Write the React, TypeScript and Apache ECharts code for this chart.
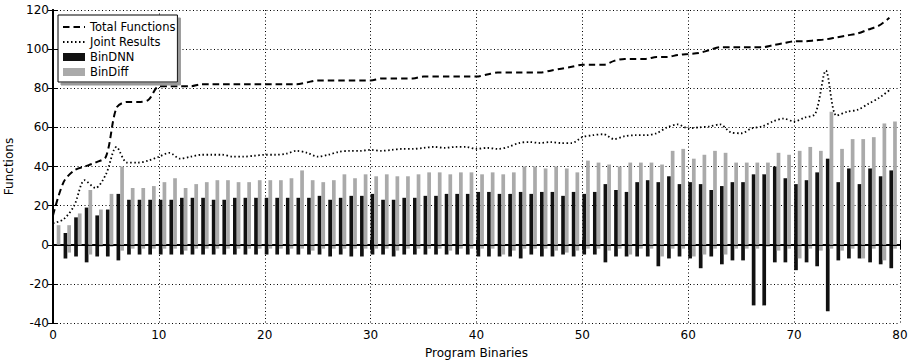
import React, { useEffect, useRef } from "react";
import * as echarts from "echarts";

// Program binary indices 0..79
const binaries: number[] = Array.from({ length: 80 }, (_, i) => i);

const totalFunctions: number[] = [
  15, 32, 38, 40, 42, 45, 70, 73, 73, 74,
  81, 81, 81, 81, 82, 82, 82, 82, 82, 82,
  82, 82, 82, 82, 83, 84, 84, 84, 84, 84,
  84, 85, 85, 85, 85, 86, 86, 86, 86, 86,
  86, 87, 88, 88, 88, 88, 88, 89, 90, 91,
  92, 92, 92, 94, 95, 95, 95, 96, 96, 97,
  97.5, 98, 99.5, 101, 101, 101, 101, 101, 102, 103,
  104, 104, 104.5, 105, 106, 107, 108, 110, 112, 116,
];

const jointResults: number[] = [
  11, 13, 20, 33, 29, 36, 50, 42, 42, 43,
  45, 47, 44, 45, 46, 46, 46, 45, 45, 45.5,
  46, 46, 46.5, 48, 47, 45, 46, 47.5, 48, 48,
  48.5, 48, 48.5, 49, 49, 49.5, 50, 49.5, 50, 50,
  49, 49.5, 49, 50, 52, 52.5, 52, 52.5, 52, 52,
  55, 56, 56.5, 54, 55.5, 56, 56, 57, 60, 61.5,
  59.5, 60, 60.5, 61.5, 57.5, 57, 59.5, 60.5, 63, 64.5,
  63, 65, 67, 89, 66, 68, 69, 72, 75, 79,
];

const binDNN: number[] = [
  0, 6, 14, 19, 15, 18, 26, 23, 23, 23,
  23, 23, 24, 24, 24, 23, 23, 24, 24, 24,
  24, 24, 24, 24, 24, 25, 23, 24, 25, 25,
  26, 23, 23, 24, 24, 25, 25, 26, 26, 26,
  27, 27, 26, 26, 27, 26, 27, 27, 25, 27,
  26, 27, 31, 28, 27, 32, 33, 32, 35, 31,
  32, 31, 28, 30, 32, 32, 36, 36, 40, 34,
  31, 33, 37, 44, 32, 39, 31, 39, 35, 38,
];

const binDiff: number[] = [
  10, 10, 16, 28, 18, 26, 40, 29, 29, 30,
  32, 34, 29, 31, 32, 33, 33, 32, 32, 33,
  33, 33, 34, 38, 33, 32, 33, 36, 34, 36,
  35, 36, 35, 35, 36, 37, 37, 36, 37, 37,
  36, 37, 36, 37, 40, 40, 39, 40, 39, 37,
  43, 42, 41, 40, 42, 42, 42, 41, 48, 49,
  44, 46, 48, 47, 42, 42, 42, 42, 47, 46,
  48, 50, 48, 68, 49, 54, 54, 55, 62, 63,
];

const binDNNMissed: number[] = [
  0, -7, -6, -9, -6, -6, -8, -5, -5, -5,
  -5, -5, -5, -5, -5, -5, -5, -5, -5, -5,
  -5, -5, -5, -5, -5, -5, -6, -5, -6, -6,
  -5, -5, -6, -5, -5, -5, -5, -5, -5, -5,
  -6, -6, -6, -6, -7, -5, -6, -6, -5, -6,
  -5, -5, -9, -6, -6, -6, -6, -11, -7, -6,
  -7, -12, -6, -10, -8, -8, -31, -31, -9, -9,
  -13, -9, -11, -34, -8, -7, -7, -9, -10, -12,
];

const binDiffMissed: number[] = [
  0, -4, 0, -5, -1, -1, -3, -2, -2, -2,
  -2, -2, -3, -2, -2, -2, -2, -2, -2, -2,
  -2, -2, -2, -2, -3, -2, -2, -2, -2, -2,
  -2, -2, -3, -2, -2, -2, -2, -3, -2, -2,
  -2, -2, -5, -3, -2, -2, -2, -3, -4, -3,
  -2, -2, -3, -2, -5, -2, -2, -6, -2, -2,
  -6, -5, -2, -5, -2, -2, -2, -1, -3, -2,
  -7, -2, -3, -2, -3, -2, -7, -2, -8, -2,
];

const xTicks = { min: 0, max: 80, interval: 10 };
const yTicks = { min: -40, max: 120, interval: 20 };

const BAR_W = 0.35;
const BLACK = "#111111";
const GRAY = "#aaaaaa";
const FONT = "DejaVu Sans";

function barSeries(name: string, vals: number[], offset: number, color: string) {
  return {
    type: "custom",
    name,
    data: binaries.map((b, i) => [b, vals[i]]),
    encode: { x: 0, y: 1 },
    itemStyle: { color },
    z: 2,
    renderItem: (_params: any, api: any) => {
      const x = api.value(0) + offset;
      const v = api.value(1);
      const a = api.coord([x, 0]);
      const b = api.coord([x + BAR_W, v]);
      return {
        type: "rect",
        shape: {
          x: a[0],
          y: Math.min(a[1], b[1]),
          width: b[0] - a[0],
          height: Math.abs(b[1] - a[1]),
        },
        style: { fill: color },
      };
    },
  };
}

function frameAxis(extra: any) {
  return {
    type: "value",
    axisLine: { show: true, lineStyle: { color: "#000", width: 2 } },
    axisTick: { show: true, inside: true, length: 5, lineStyle: { color: "#000", width: 1 } },
    ...extra,
  };
}

export default function App() {
  const ref = useRef<HTMLDivElement>(null);

  useEffect(() => {
    if (!ref.current) return;
    const chart = echarts.init(ref.current, null, { renderer: "svg" });
    const gridLine = { show: true, lineStyle: { color: "#000", width: 1, type: [1, 2.5] } };
    const option: any = {
      animation: false,
      textStyle: { fontFamily: FONT },
      grid: { left: 53, right: 11, top: 10, bottom: 38, outerBoundsMode: "none", containLabel: false },
      legend: {
        data: [
          { name: "Total Functions", itemStyle: { opacity: 0 } },
          { name: "Joint Results", itemStyle: { opacity: 0 } },
          { name: "BinDNN", icon: "rect" },
          { name: "BinDiff", icon: "rect" },
        ],
        orient: "vertical",
        left: 58,
        top: 15,
        itemWidth: 22,
        itemHeight: 8,
        itemGap: 3,
        itemTextGap: 9,
        padding: [6, 2, 4, 4],
        backgroundColor: "#fff",
        borderColor: "#000",
        borderWidth: 1,
        borderRadius: 0,
        shadowColor: "#999",
        shadowBlur: 0,
        shadowOffsetX: 3,
        shadowOffsetY: 3,
        textStyle: { fontSize: 11.5, color: "#000", fontFamily: FONT, lineHeight: 12 },
        z: 10,
      },
      xAxis: [
        frameAxis({
          ...xTicks,
          position: "bottom",
          axisLabel: { color: "#000", fontSize: 12, fontFamily: FONT, margin: 6 },
          splitLine: gridLine,
          name: "Program Binaries",
          nameLocation: "middle",
          nameGap: 24,
          nameTextStyle: { color: "#000", fontSize: 12, fontFamily: FONT },
        }),
        frameAxis({
          ...xTicks,
          position: "top",
          axisLabel: { show: false },
          splitLine: { show: false },
        }),
      ],
      yAxis: [
        frameAxis({
          ...yTicks,
          position: "left",
          axisLabel: { color: "#000", fontSize: 12, fontFamily: FONT, margin: 4 },
          splitLine: gridLine,
          name: "Functions",
          nameLocation: "middle",
          nameGap: 30,
          nameTextStyle: { color: "#000", fontSize: 12, fontFamily: FONT },
        }),
        frameAxis({
          ...yTicks,
          position: "right",
          axisLabel: { show: false },
          splitLine: { show: false },
        }),
      ],
      series: [
        barSeries("BinDNN", binDNN, 0, BLACK),
        barSeries("BinDiff", binDiff, BAR_W, GRAY),
        barSeries("BinDNN", binDNNMissed, 0, BLACK),
        barSeries("BinDiff", binDiffMissed, BAR_W, GRAY),
        {
          type: "line",
          name: "Total Functions",
          data: binaries.map((b, i) => [b, totalFunctions[i]]),
          symbol: "none",
          smooth: 0.3,
          z: 3,
          itemStyle: { color: "#000" },
          lineStyle: { color: "#000", width: 2, type: [6.5, 4] },
          markLine: {
            silent: true,
            symbol: ["none", "none"],
            label: { show: false },
            lineStyle: { color: "#000", width: 1, type: "solid" },
            data: [{ yAxis: 0 }],
          },
        },
        {
          type: "line",
          name: "Joint Results",
          data: binaries.map((b, i) => [b, jointResults[i]]),
          symbol: "none",
          smooth: 0.3,
          z: 3,
          itemStyle: { color: "#000" },
          lineStyle: { color: "#000", width: 1.8, type: [1.5, 2.5] },
        },
      ],
    };
    chart.setOption(option);
    return () => chart.dispose();
  }, []);

  return (
    <div
      ref={ref}
      style={{ position: "absolute", left: 0, top: 0, width: 911, height: 361 }}
    />
  );
}
